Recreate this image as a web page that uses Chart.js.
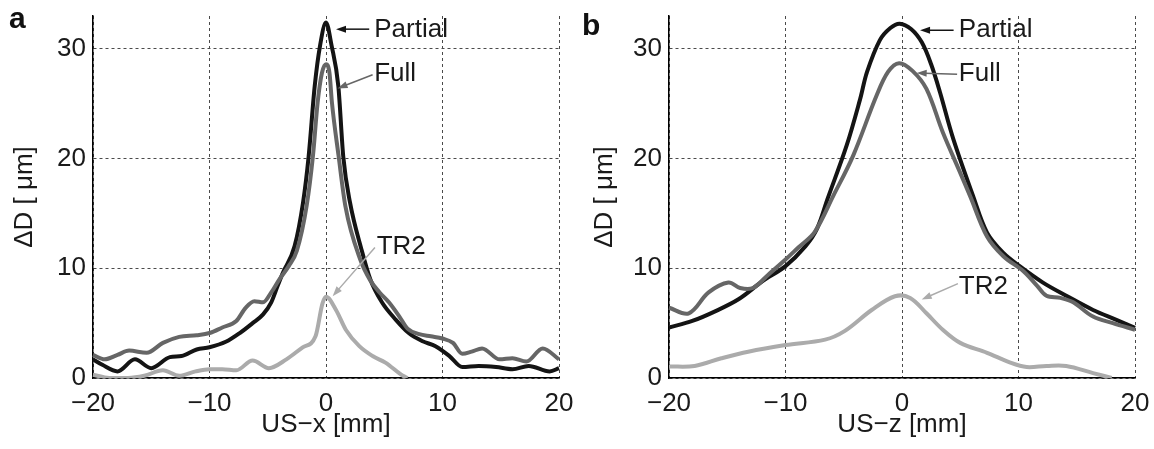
<!DOCTYPE html>
<html>
<head>
<meta charset="utf-8">
<title>ΔD profiles</title>
<script src="https://cdn.jsdelivr.net/npm/chart.js@4.4.1/dist/chart.umd.min.js"></script>
<style>
    body { margin: 0; background: #fff; }
    #wrap { position: relative; width: 1154px; height: 449px; }
    #wrap canvas { position: absolute; top: 0; }
    .tag { position: absolute; font: bold 30px "Liberation Sans", Arial, sans-serif; line-height: 30px; color: #111; }
</style>
</head>
<body>
<div id="wrap">
    <canvas id="chart_a" width="577" height="449" style="left:0"></canvas>
    <canvas id="chart_b" width="577" height="449" style="left:577px"></canvas>
    <div class="tag" style="left:9px;top:3px">a</div>
    <div class="tag" style="left:582px;top:10px">b</div>
</div>
<script>
// axes
const xTicks = [-20, -10, 0, 10, 20];
const yTicks = [0, 10, 20, 30];
const yMax = 33;

// panel a : US-x profiles
const aPartialX = [-20, -19.2, -17.9, -16.4, -15, -13.4, -12.4, -11.1, -10, -8.6, -7.4, -6.3, -5.4, -4.7, -4.15, -3.7, -2.7, -1.97, -1.49, -0.97, -0.51, 0, 0.48, 1.06, 1.48, 2.06, 3.05, 3.8, 4.8, 6.0, 7.1, 8.3, 9.4, 10.6, 11.7, 13.1, 14.6, 16.0, 17.4, 19.2, 20];
const aPartialY = [1.7, 1.2, 0.6, 1.7, 0.9, 1.9, 2.0, 2.6, 2.8, 3.3, 4.1, 5.0, 5.8, 6.9, 8.4, 9.6, 12.0, 16.0, 20.2, 26.6, 30.3, 32.4, 30.3, 26.6, 20.2, 16.0, 11.7, 9.0, 6.9, 5.3, 4.1, 3.35, 2.9, 2.0, 1.0, 1.1, 1.0, 0.8, 1.1, 0.6, 0.9];

const aFullX = [-20, -19.0, -17.9, -16.9, -15.4, -14.0, -12.6, -11.1, -10, -8.9, -7.7, -6.9, -6.15, -5.4, -4.7, -4.0, -3.2, -2.5, -1.66, -1.12, -0.72, -0.35, 0, 0.3, 0.51, 1.08, 1.66, 2.94, 3.8, 4.6, 5.4, 6.3, 7.0, 8.0, 9.0, 10.0, 10.9, 11.7, 12.5, 13.4, 14.9, 16.0, 17.2, 18.6, 20];
const aFullY = [2.1, 1.7, 2.1, 2.5, 2.3, 3.2, 3.75, 3.9, 4.1, 4.6, 5.2, 6.4, 7.0, 6.9, 7.8, 9.0, 10.2, 11.6, 15.7, 20.25, 25.1, 27.8, 28.6, 27.8, 25.1, 20.25, 15.7, 10.8, 8.9, 7.8, 6.9, 5.6, 4.5, 4.0, 3.8, 3.6, 3.2, 2.2, 2.4, 2.7, 1.7, 1.8, 1.5, 2.7, 1.7];

const aTr2X = [-20, -18.6, -17.0, -15.6, -14.0, -12.6, -11.2, -10.0, -8.9, -7.7, -6.3, -4.9, -3.4, -2.0, -0.9, -0.3, 0, 0.86, 1.7, 2.86, 4.0, 5.1, 6.6, 7.0];
const aTr2Y = [0.3, 0, 0, 0.2, 0.7, 0.2, 0.6, 0.8, 0.8, 0.7, 1.6, 0.9, 1.7, 2.8, 3.8, 6.8, 7.4, 6.2, 4.4, 2.9, 2.0, 1.4, 0.2, 0];

// panel b : US-z profiles
const bPartialX = [-20, -18, -16, -14, -12, -10, -8.3, -7.3, -6.4, -4.75, -3.6, -3.0, -1.9, -1.0, -0.2, 0.8, 1.7, 2.5, 3.26, 4.4, 6.1, 7.3, 8.7, 10.1, 12.1, 14.1, 16.4, 18.4, 20];
const bPartialY = [4.6, 5.2, 6.1, 7.2, 8.8, 10.2, 12.0, 13.6, 16.3, 21.2, 25.4, 27.9, 30.8, 31.9, 32.3, 31.8, 30.6, 28.6, 26.05, 21.8, 16.6, 13.25, 11.4, 10.2, 8.7, 7.5, 6.2, 5.3, 4.57];

const bFullX = [-20, -18.3, -16.6, -14.9, -13.9, -12.8, -11.5, -10, -8.9, -7.5, -5.9, -4.2, -2.2, -1.2, -0.25, 0.9, 2.1, 3.5, 5.0, 5.84, 7.3, 8.7, 10.4, 11.6, 12.4, 13.6, 14.7, 16.4, 18.1, 20];
const bFullY = [6.4, 5.9, 7.8, 8.7, 8.2, 8.2, 9.4, 10.8, 11.9, 13.3, 16.6, 20.25, 25.7, 27.9, 28.7, 28.0, 26.35, 22.4, 18.7, 16.6, 12.9, 11.1, 9.75, 8.4, 7.5, 7.3, 6.9, 5.6, 5.0, 4.4];

const bTr2X = [-20, -17.8, -15.5, -13.2, -10, -6.6, -4.9, -2.6, -0.6, 0.7, 2.1, 3.5, 5.0, 7.3, 9.3, 10.7, 12.4, 14.1, 16.4, 18.0];
const bTr2Y = [1.05, 1.1, 1.8, 2.4, 3.0, 3.5, 4.3, 6.2, 7.45, 7.3, 5.9, 4.4, 3.2, 2.3, 1.4, 1.0, 1.1, 1.1, 0.45, 0];

// series labels and their colours
const seriesNames = ["Partial", "Full", "TR2"];
const seriesColors = ["#141414", "#666666", "#ababab"];

// arrow labels : text position, arrow tail, arrow tip (data units)
const aNotes = [
    { text: "Partial", at: [4.14, 31.7], tail: [3.71, 31.8], tip: [0.86, 31.8] },
    { text: "Full", at: [4.14, 27.7], tail: [4.0, 27.65], tip: [0.99, 26.4] },
    { text: "TR2", at: [4.35, 11.95], tail: [4.2, 11.9], tip: [0.57, 7.46] },
];
const bNotes = [
    { text: "Partial", at: [4.88, 31.7], tail: [4.43, 31.7], tip: [1.55, 31.7] },
    { text: "Full", at: [4.88, 27.7], tail: [4.73, 27.7], tip: [1.26, 27.8] },
    { text: "TR2", at: [4.88, 8.3], tail: [4.8, 8.6], tip: [1.69, 7.16] },
];

const fontFamily = '"Liberation Sans", Arial, sans-serif';
const textColor = "#1a1a1a";

function pts(xs, ys) {
    return xs.map((x, i) => ({ x: x, y: ys[i] }));
}

function fmt(v) {
    return v < 0 ? "\u2212" + Math.abs(v) : String(v);
}

// draws the arrows with their labels on top of the curves
const arrowNotes = {
    id: "arrowNotes",
    afterDatasetsDraw(chart, args, opts) {
        const ctx = chart.ctx;
        const sx = chart.scales.x;
        const sy = chart.scales.y;
        ctx.save();
        (opts.items || []).forEach((n, i) => {
            const tx = sx.getPixelForValue(n.tip[0]);
            const ty = sy.getPixelForValue(n.tip[1]);
            const fx = sx.getPixelForValue(n.tail[0]);
            const fy = sy.getPixelForValue(n.tail[1]);
            const ang = Math.atan2(ty - fy, tx - fx);
            const c = Math.cos(ang), s = Math.sin(ang);
            ctx.strokeStyle = seriesColors[i];
            ctx.fillStyle = seriesColors[i];
            ctx.lineWidth = 1.5;
            ctx.beginPath();
            ctx.moveTo(fx, fy);
            ctx.lineTo(tx - 8 * c, ty - 8 * s);
            ctx.stroke();
            ctx.beginPath();
            ctx.moveTo(tx, ty);
            ctx.lineTo(tx - 10 * c + 3.5 * s, ty - 10 * s - 3.5 * c);
            ctx.lineTo(tx - 10 * c - 3.5 * s, ty - 10 * s + 3.5 * c);
            ctx.closePath();
            ctx.fill();
            ctx.fillStyle = textColor;
            ctx.font = "26px " + fontFamily;
            ctx.textAlign = "left";
            ctx.textBaseline = "middle";
            ctx.fillText(n.text, sx.getPixelForValue(n.at[0]), sy.getPixelForValue(n.at[1]));
        });
        ctx.restore();
    },
};

// tick labels may hang over the plot edges, so the scales ask for no extra room
function noOverhang(s) {
    s.paddingTop = 0;
    s.paddingBottom = 0;
    s.paddingLeft = 0;
    s.paddingRight = 0;
}

function drawPanel(canvasId, xs, ys, notes, xTitle, box, yTitlePad, smooth) {
    // Full first so it is painted over Partial
    const order = [1, 0, 2];
    const datasets = order.map((k) => ({
        label: seriesNames[k],
        data: pts(xs[k], ys[k]),
        borderColor: seriesColors[k],
        borderWidth: 4,
        pointRadius: 0,
        pointHoverRadius: 0,
        fill: false,
        cubicInterpolationMode: smooth ? "default" : "monotone",
        tension: smooth ? 0.35 : 0,
        clip: { left: 3, right: 3, top: 3, bottom: 0 },
    }));

    const grid = { color: "#4a4a4a", lineWidth: 1, drawTicks: false };
    const border = { display: true, color: "#000", width: 1.5, dash: [3, 3] };
    const tickFont = { family: fontFamily, size: 26 };

    return new Chart(document.getElementById(canvasId).getContext("2d"), {
        type: "line",
        data: { datasets: datasets },
        options: {
            responsive: false,
            animation: false,
            events: [],
            layout: {
                autoPadding: false,
                padding: { top: box.top, right: 577 - box.right, left: 0, bottom: 0 },
            },
            plugins: {
                legend: { display: false },
                tooltip: { enabled: false },
                arrowNotes: { items: notes },
            },
            scales: {
                x: {
                    type: "linear",
                    min: -20,
                    max: 20,
                    afterBuildTicks: (s) => { s.ticks = xTicks.map((v) => ({ value: v })); },
                    afterFit: (s) => { s.height = 449 - box.bottom; noOverhang(s); },
                    ticks: { font: tickFont, color: textColor, padding: 10, maxRotation: 0, callback: (v) => fmt(v) },
                    grid: grid,
                    border: border,
                    title: {
                        display: true,
                        text: xTitle,
                        color: textColor,
                        font: { family: fontFamily, size: 26 },
                        padding: { top: 9, bottom: 9 },
                    },
                },
                y: {
                    type: "linear",
                    min: 0,
                    max: yMax,
                    afterBuildTicks: (s) => { s.ticks = yTicks.map((v) => ({ value: v })); },
                    afterFit: (s) => { s.width = box.left; noOverhang(s); },
                    ticks: { font: tickFont, color: textColor, padding: 7, callback: (v) => fmt(v) },
                    grid: grid,
                    border: border,
                    title: {
                        display: true,
                        text: "ΔD [ μm]",
                        color: textColor,
                        font: { family: fontFamily, size: 26 },
                        padding: { top: yTitlePad, bottom: yTitlePad },
                    },
                },
            },
        },
        plugins: [arrowNotes],
    });
}

drawPanel("chart_a", [aPartialX, aFullX, aTr2X], [aPartialY, aFullY, aTr2Y], aNotes, "US\u2212x [mm]",
    { left: 93, top: 16, right: 559, bottom: 378 }, 9.4, false);
drawPanel("chart_b", [bPartialX, bFullX, bTr2X], [bPartialY, bFullY, bTr2Y], bNotes, "US\u2212z [mm]",
    { left: 92, top: 16, right: 558, bottom: 378 }, 12.4, true);
</script>
</body>
</html>
